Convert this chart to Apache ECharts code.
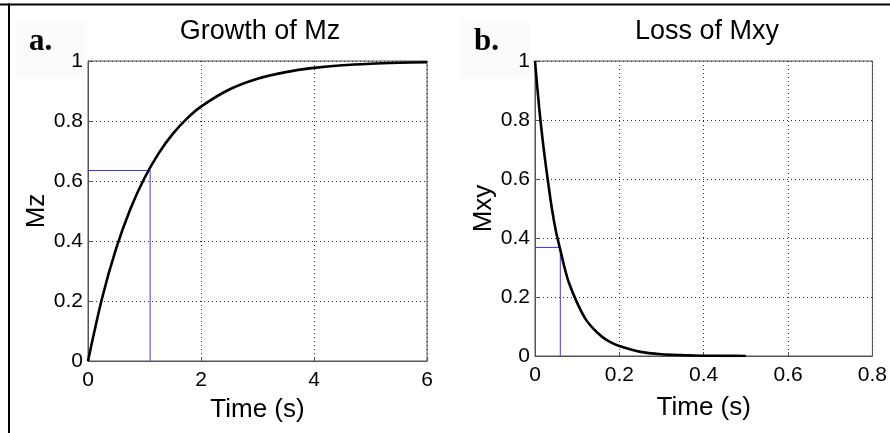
<!DOCTYPE html>
<html>
<head>
<meta charset="utf-8">
<script src="https://cdn.jsdelivr.net/npm/echarts@6/dist/echarts.min.js"></script>
<style>
html,body{margin:0;padding:0;background:#fff;}
#chart{width:890px;height:433px;}
</style>
</head>
<body>
<div id="chart"></div>
<script>
// ---- data ----
const mzTimes   = [0, 0.25, 0.5, 0.75, 1, 1.25, 1.5, 1.75, 2, 2.5, 3, 3.5, 4, 4.5, 5, 5.5, 6];
const mzValues  = [0, 0.21, 0.376, 0.507, 0.61, 0.692, 0.757, 0.808, 0.848, 0.905, 0.941, 0.963, 0.977, 0.986, 0.991, 0.994, 0.996];
const mxyTimes  = [0, 0.01, 0.02, 0.03, 0.04, 0.05, 0.06, 0.07, 0.08, 0.1, 0.12, 0.14, 0.16, 0.18, 0.2, 0.25, 0.3, 0.35, 0.4, 0.45, 0.5];
const mxyValues = [1, 0.84, 0.71, 0.6, 0.5, 0.42, 0.36, 0.3, 0.25, 0.18, 0.125, 0.09, 0.064, 0.046, 0.034, 0.014, 0.006, 0.003, 0.001, 0.0005, 0];
const mzMark    = [1.1, 0.635];   // T1 marker (time, value)
const mxyMark   = [0.06, 0.368];  // T2 marker (time, value)
const titles    = ['Growth of Mz', 'Loss of Mxy'];
const panelTags = ['a.', 'b.'];
const yNames    = ['Mz', 'Mxy'];
const xName     = 'Time (s)';
const xAxisLeft  = {min: 0, max: 6, interval: 2};
const xAxisRight = {min: 0, max: 0.8, interval: 0.2};
const yAxisBoth  = {min: 0, max: 1, interval: 0.2};

const FONT = "'Liberation Sans', Arial, Helvetica, sans-serif";
const pair = (xs, ys) => xs.map((x, i) => [x, ys[i]]);

const chart = echarts.init(document.getElementById('chart'), null, {renderer: 'canvas'});

function xAxisDef(idx, cfg, gap) {
  return {
    gridIndex: idx, type: 'value', min: cfg.min, max: cfg.max, interval: cfg.interval,
    name: xName, nameLocation: 'middle', nameGap: gap,
    nameTextStyle: {fontFamily: FONT, fontSize: 26, color: '#000'},
    axisLine: {show: true, onZero: false, lineStyle: {color: '#555', width: 1}},
    axisTick: {show: true, inside: true, length: 4, lineStyle: {color: '#555'}},
    axisLabel: {fontFamily: FONT, fontSize: 21, color: '#000', margin: 9},
    splitLine: {show: true, lineStyle: {color: '#333', width: 1, type: [1, 3]}}
  };
}
function yAxisDef(idx, gap, name) {
  return {
    gridIndex: idx, type: 'value', min: yAxisBoth.min, max: yAxisBoth.max, interval: yAxisBoth.interval,
    name: name, nameLocation: 'middle', nameGap: gap, nameRotate: 90,
    nameTextStyle: {fontFamily: FONT, fontSize: 26, color: '#000'},
    axisLine: {show: true, onZero: false, lineStyle: {color: '#555', width: 1}},
    axisTick: {show: true, inside: true, length: 4, lineStyle: {color: '#555'}},
    axisLabel: {fontFamily: FONT, fontSize: 21, color: '#000', margin: 5},
    splitLine: {show: true, lineStyle: {color: '#333', width: 1, type: [1, 3]}}
  };
}

const option = {
  backgroundColor: '#fff',
  animation: false,
  title: [
    {text: titles[0], left: 255, top: 13, textAlign: 'center',
     textStyle: {fontFamily: FONT, fontSize: 27, fontWeight: 'normal', color: '#000'}},
    {text: titles[1], left: 702, top: 13, textAlign: 'center',
     textStyle: {fontFamily: FONT, fontSize: 27, fontWeight: 'normal', color: '#000'}}
  ],
  grid: [
    {left: 88, right: 463, top: 61, height: 300, show: true, borderColor: '#555', borderWidth: 1, backgroundColor: 'transparent'},
    {left: 535, right: 16, top: 61, height: 295, show: true, borderColor: '#555', borderWidth: 1, backgroundColor: 'transparent'}
  ],
  xAxis: [xAxisDef(0, xAxisLeft, 36), xAxisDef(1, xAxisRight, 39)],
  yAxis: [yAxisDef(0, 38, yNames[0]), yAxisDef(1, 32, yNames[1])],
  series: [
    {type: 'line', xAxisIndex: 0, yAxisIndex: 0, showSymbol: false, silent: true,
     data: [[mzMark[0], 0], [mzMark[0], mzMark[1]], [0, mzMark[1]]],
     lineStyle: {color: '#3535ff', width: 1}},
    {type: 'line', xAxisIndex: 0, yAxisIndex: 0, showSymbol: false, silent: true,
     smooth: 0.3,
     data: pair(mzTimes, mzValues), lineStyle: {color: '#000', width: 2.6}},
    {type: 'line', xAxisIndex: 1, yAxisIndex: 1, showSymbol: false, silent: true,
     data: [[mxyMark[0], 0], [mxyMark[0], mxyMark[1]], [0, mxyMark[1]]],
     lineStyle: {color: '#3535ff', width: 1}},
    {type: 'line', xAxisIndex: 1, yAxisIndex: 1, showSymbol: false, silent: true,
     smooth: 0.3,
     data: pair(mxyTimes, mxyValues), lineStyle: {color: '#000', width: 2.6}}
  ],
  graphic: [
    {type: 'rect', shape: {x: 15, y: 20, width: 70, height: 58}, style: {fill: '#fbfbfb'}, z: -1, silent: true},
    {type: 'rect', shape: {x: 460, y: 20, width: 70, height: 58}, style: {fill: '#fbfbfb'}, z: -1, silent: true},
    {type: 'text', x: 29, y: 57, style: {text: panelTags[0], font: "bold 31px 'Liberation Serif', 'Times New Roman', serif", fill: '#000', textVerticalAlign: 'bottom'}},
    {type: 'text', x: 474, y: 57, style: {text: panelTags[1], font: "bold 31px 'Liberation Serif', 'Times New Roman', serif", fill: '#000', textVerticalAlign: 'bottom'}},
    {type: 'line', shape: {x1: 0, y1: 4.5, x2: 890, y2: 4.5}, style: {stroke: '#000', lineWidth: 2}},
    {type: 'line', shape: {x1: 9, y1: 3.5, x2: 9, y2: 433}, style: {stroke: '#000', lineWidth: 2}}
  ]
};
chart.setOption(option);
</script>
</body>
</html>
